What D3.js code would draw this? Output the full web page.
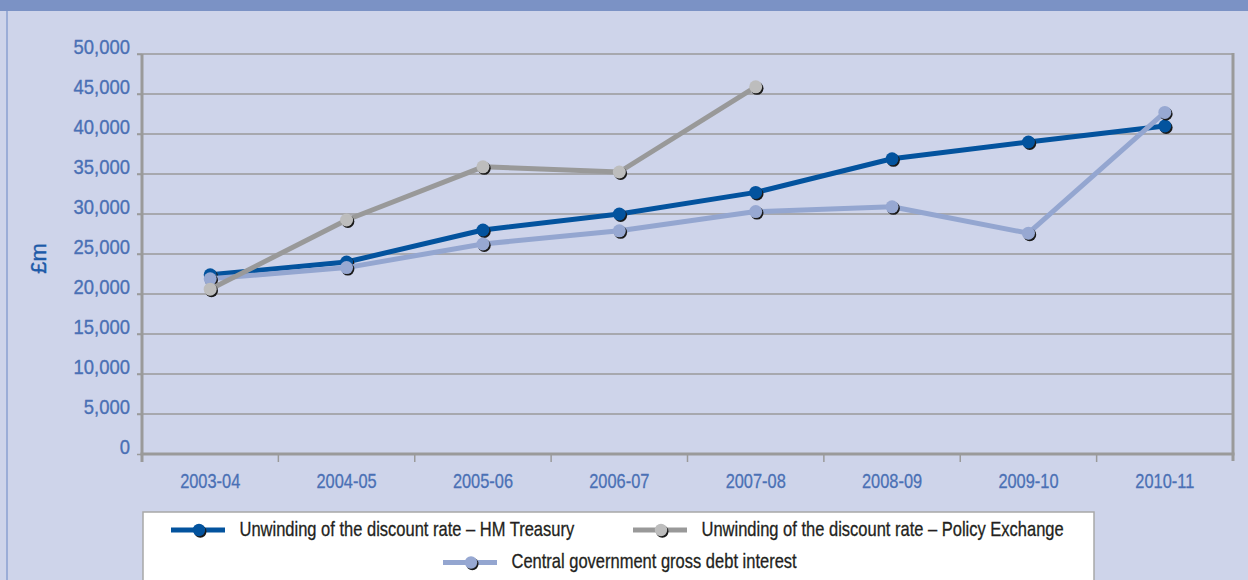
<!DOCTYPE html>
<html><head><meta charset="utf-8">
<script src="https://cdn.jsdelivr.net/npm/d3@7"></script>
<style>
html,body{margin:0;padding:0;background:#ced4ea;}
svg{display:block;}
text{font-family:"Liberation Sans",Arial,sans-serif;}
</style></head>
<body>
<svg id="c" width="1248" height="580"></svg>
<script>
const categories = ["2003-04","2004-05","2005-06","2006-07","2007-08","2008-09","2009-10","2010-11"];
const hmTreasury = [22400, 24000, 28000, 30000, 32700, 36900, 39000, 41000];
const policyExchange = [20600, 29250, 35900, 35250, 45900, null, null, null];
const centralGov = [21900, 23300, 26250, 27900, 30300, 30900, 27600, 42700];
const yTicks = [0,5000,10000,15000,20000,25000,30000,35000,40000,45000,50000];
const seriesNames = ["Unwinding of the discount rate \u2013  HM Treasury","Unwinding of the discount rate \u2013  Policy Exchange","Central government gross debt interest"];

const svg = d3.select("#c");
const W = 1248, H = 580;
const m = {l:142, r:1233, t:54, b:454};

svg.append("rect").attr("width",W).attr("height",H).attr("fill","#ced4ea");
svg.append("rect").attr("x",0).attr("y",0).attr("width",W).attr("height",11).attr("fill","#7b92c5");
svg.append("line").attr("x1",7).attr("x2",7).attr("y1",11).attr("y2",H).attr("stroke","#9badd7").attr("stroke-width",2);

const x = d3.scaleBand().domain(categories).range([m.l,m.r]);
const y = d3.scaleLinear().domain([0,50000]).range([m.b,m.t]);

// gridlines
svg.append("g").selectAll("line").data(yTicks.filter(d=>d>0)).join("line")
  .attr("x1",m.l-5).attr("x2",m.r).attr("y1",d=>y(d)).attr("y2",d=>y(d))
  .attr("stroke","#9a9a9a").attr("stroke-width",1.5);
// right border
svg.append("line").attr("x1",m.r).attr("x2",m.r).attr("y1",m.t-1).attr("y2",m.b+7)
  .attr("stroke","#9a9a9a").attr("stroke-width",3);

const labelColor = "#4a70b5";
// y axis
const yAxis = d3.axisLeft(y).tickValues(yTicks).tickSize(5).tickFormat(d3.format(","));
const gy = svg.append("g").attr("transform",`translate(${m.l},0)`).call(yAxis);
gy.select(".domain").remove();
gy.selectAll(".tick line").attr("stroke","#9a9a9a").attr("stroke-width",1.5);
gy.selectAll(".tick text").attr("x",0).attr("dy","0").attr("y",0)
  .attr("transform","translate(-12,-1) scale(0.9,1)")
  .attr("fill",labelColor).attr("stroke",labelColor).attr("stroke-width",0.35)
  .style("font-size","20.5px").style("font-family","Liberation Sans, Arial, sans-serif");
svg.append("line").attr("x1",m.l).attr("x2",m.l).attr("y1",m.t).attr("y2",m.b+8)
  .attr("stroke","#9a9a9a").attr("stroke-width",3);

// x axis
const gx = svg.append("g").attr("transform",`translate(0,${m.b})`)
  .call(d3.axisBottom(x).tickSize(0).tickPadding(0));
gx.select(".domain").remove();
gx.selectAll(".tick text").attr("y",0).attr("dy","0")
  .attr("transform","translate(0,34) scale(0.82,1)")
  .attr("fill",labelColor).attr("stroke",labelColor).attr("stroke-width",0.3)
  .style("font-size","20px").style("font-family","Liberation Sans, Arial, sans-serif");
svg.append("g").selectAll("line").data(categories.slice(1)).join("line")
  .attr("x1",d=>x(d)).attr("x2",d=>x(d))
  .attr("y1",m.b).attr("y2",m.b+8).attr("stroke","#9a9a9a").attr("stroke-width",1.5);
svg.append("line").attr("x1",m.l-1.5).attr("x2",m.r+1.5).attr("y1",m.b).attr("y2",m.b)
  .attr("stroke","#9a9a9a").attr("stroke-width",3);

// y title
svg.append("text").attr("transform","translate(46,258.5) rotate(-90)").attr("text-anchor","middle")
  .attr("fill","#1d5aa8").attr("stroke","#1d5aa8").attr("stroke-width",0.4)
  .style("font-size","22px").text("£m");

const series = [
  {vals:hmTreasury, line:"#03539e", mark:"#03539e"},
  {vals:centralGov, line:"#94a6d0", mark:"#97a8d2"},
  {vals:policyExchange, line:"#999999", mark:"#bdbdbd"}
];
const cx = d => x(d) + x.bandwidth()/2;
series.forEach(s=>{
  const pts = categories.map((c,i)=>({c, v:s.vals[i]})).filter(p=>p.v!=null);
  const line = d3.line().x(p=>cx(p.c)).y(p=>y(p.v));
  const g = svg.append("g");
  g.append("path").attr("d",line(pts)).attr("fill","none").attr("stroke",s.line)
    .attr("stroke-width",5).attr("stroke-linejoin","round");
  g.selectAll(".sh").data(pts).join("circle").attr("cx",p=>cx(p.c)+1.3).attr("cy",p=>y(p.v)+1.5)
    .attr("r",6.5).attr("fill","#1a1a1a");
  g.selectAll(".mk").data(pts).join("circle").attr("cx",p=>cx(p.c)).attr("cy",p=>y(p.v))
    .attr("r",6.5).attr("fill",s.mark);
});

// legend
svg.append("rect").attr("x",143).attr("y",512).attr("width",951).attr("height",80)
  .attr("fill","#ffffff").attr("stroke","#a8a8a8").attr("stroke-width",1.5);
const legendItems = [
  {name:seriesNames[0], line:"#03539e", mark:"#03539e", x:171, y:530},
  {name:seriesNames[1], line:"#999999", mark:"#bdbdbd", x:633, y:530},
  {name:seriesNames[2], line:"#94a6d0", mark:"#97a8d2", x:443, y:562.5}
];
legendItems.forEach(it=>{
  const g = svg.append("g");
  g.append("line").attr("x1",it.x).attr("x2",it.x+54).attr("y1",it.y).attr("y2",it.y)
    .attr("stroke",it.line).attr("stroke-width",5);
  g.append("circle").attr("cx",it.x+28+1.3).attr("cy",it.y+1.5).attr("r",6.2).attr("fill","#1a1a1a");
  g.append("circle").attr("cx",it.x+28).attr("cy",it.y).attr("r",6.2).attr("fill",it.mark);
  g.append("text").attr("transform",`translate(${it.x+68.5},${it.y+5.5}) scale(0.825,1)`)
    .attr("fill","#231f20").attr("stroke","#231f20").attr("stroke-width",0.3)
    .style("font-size","20px").text(it.name);
});
</script>
</body></html>
